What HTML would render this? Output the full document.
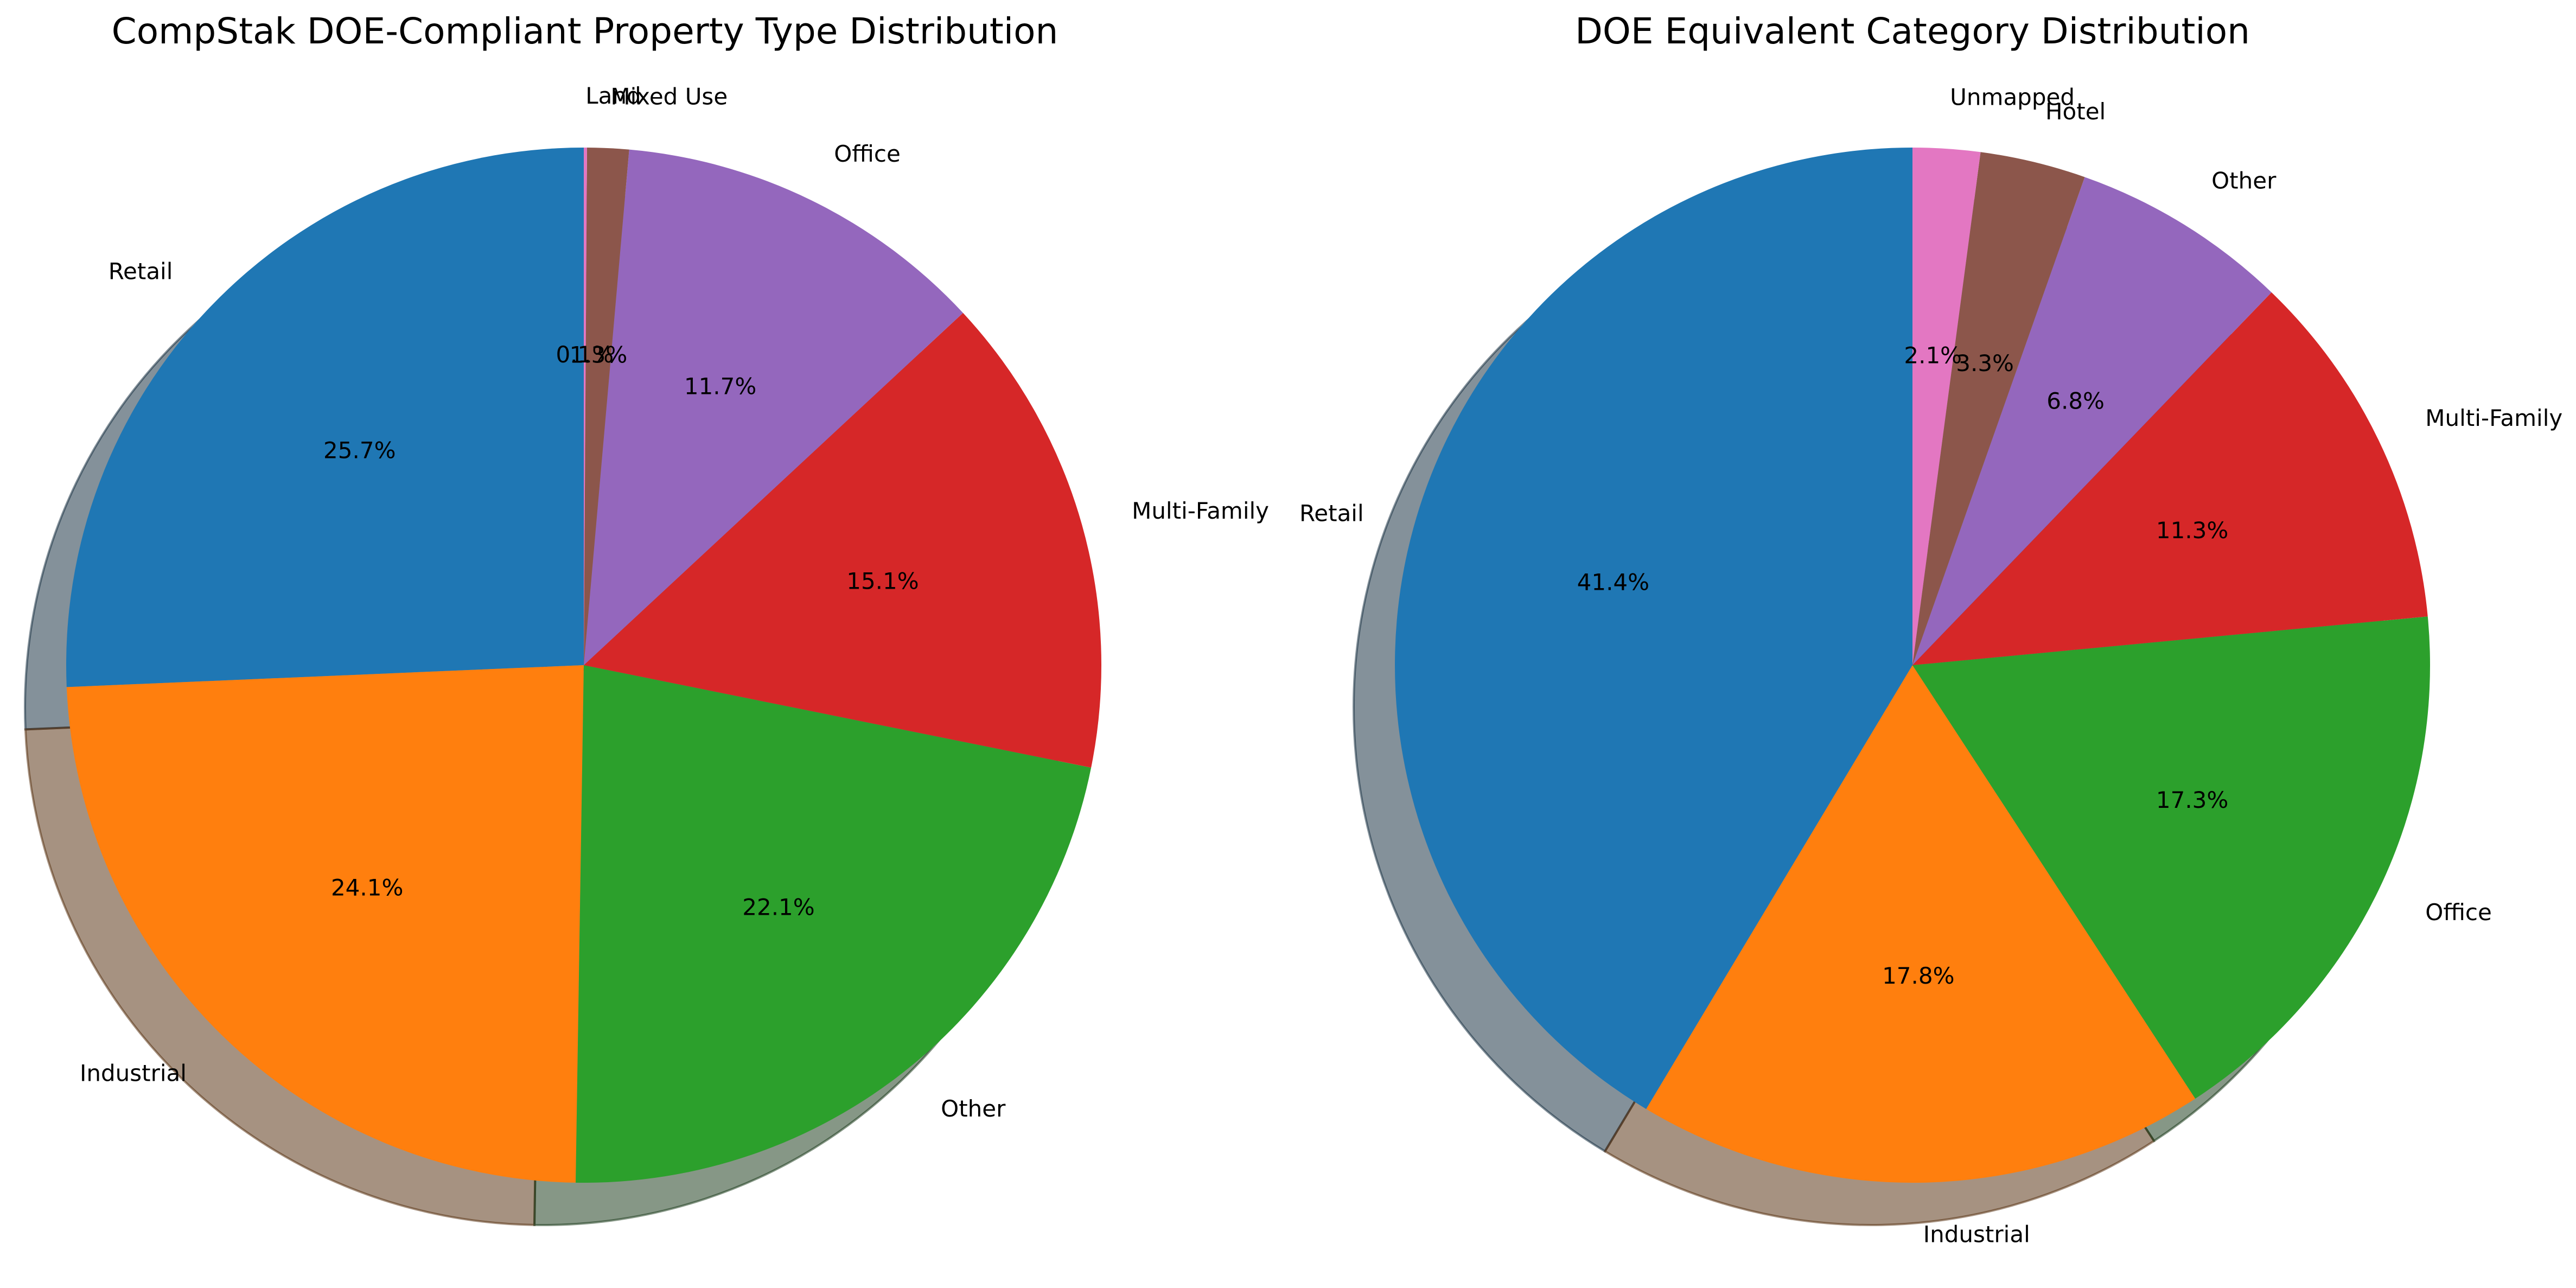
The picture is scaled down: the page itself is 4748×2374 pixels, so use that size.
<!DOCTYPE html>
<html><head><meta charset="utf-8"><style>
html,body{margin:0;padding:0;background:#fff;}
svg{display:block;}
text{font-family:"DejaVu Sans","Liberation Sans",sans-serif;fill:#000;}
</style></head><body>
<svg id="chart" width="4748" height="2374" viewBox="0 0 4748 2374" xmlns="http://www.w3.org/2000/svg">
<text x="1078" y="80" font-size="66" text-anchor="middle">CompStak DOE-Compliant Property Type Distribution</text>
<text x="3525" y="80" font-size="66" text-anchor="middle">DOE Equivalent Category Distribution</text>
<g id="left"></g>
<g id="right"></g>
</svg>
<script>
const leftCategories = ["Retail","Industrial","Other","Multi-Family","Office","Mixed Use","Land"];
const leftValues = [25.7,24.1,22.1,15.1,11.7,1.3,0.1];
const rightCategories = ["Retail","Industrial","Office","Multi-Family","Other","Hotel","Unmapped"];
const rightValues = [41.4,17.8,17.3,11.3,6.8,3.3,2.1];
const palette = ["#1f77b4","#ff7f0e","#2ca02c","#d62728","#9467bd","#8c564b","#e377c2"];

const NS = "http://www.w3.org/2000/svg";
function hexRgb(h){return [1,3,5].map(i=>parseInt(h.substr(i,2),16));}
function wedgePath(cx,cy,r,a0,a1){
  const x0=cx+r*Math.cos(a0), y0=cy-r*Math.sin(a0);
  const x1=cx+r*Math.cos(a1), y1=cy-r*Math.sin(a1);
  const large=(a1-a0)>Math.PI?1:0;
  return `M${cx},${cy} L${x0},${y0} A${r},${r} 0 ${large} 0 ${x1},${y1} Z`;
}
function drawPie(gid, cats, vals, cx, cy, R){
  const g=document.getElementById(gid);
  const total=vals.reduce((a,b)=>a+b,0);
  const sg=document.createElementNS(NS,"g");
  
  
  g.appendChild(sg);
  const wg=document.createElementNS(NS,"g");
  g.appendChild(wg);
  let a=Math.PI/2;
  const angles=[];
  vals.forEach((v,i)=>{const s=a, e=a+v/total*2*Math.PI; angles.push([s,e]); a=e;});
  angles.forEach((an,i)=>{
    const c=hexRgb(palette[i]).map(x=>Math.round(x*0.3));
    const col=`rgb(${c[0]},${c[1]},${c[2]})`;
    const p=document.createElementNS(NS,"path");
    p.setAttribute("d",wedgePath(cx-76,cy+78,R,an[0],an[1]));
    p.setAttribute("fill",col);p.setAttribute("fill-opacity","0.5");
    p.setAttribute("stroke",col);p.setAttribute("stroke-opacity","0.5");p.setAttribute("stroke-width","4");
    
    
    sg.appendChild(p);
  });
  angles.forEach((an,i)=>{
    const slug=cats[i].toLowerCase().replace(/\s+/g,'-');
    const p=document.createElementNS(NS,"path");
    p.setAttribute("d",wedgePath(cx,cy,R,an[0],an[1]));
    p.setAttribute("fill",palette[i]);
    
    
    wg.appendChild(p);
    const m=(an[0]+an[1])/2;
    const lx=cx+1.1*R*Math.cos(m), ly=cy-1.1*R*Math.sin(m);
    const t=document.createElementNS(NS,"text");
    t.setAttribute("x",lx);t.setAttribute("y",ly);
    t.setAttribute("font-size","42");
    t.setAttribute("dominant-baseline","central");
    t.setAttribute("text-anchor",Math.cos(m)>=0?"start":"end");
    t.textContent=cats[i];
    
    
    g.appendChild(t);
    const px=cx+0.6*R*Math.cos(m), py=cy-0.6*R*Math.sin(m);
    const pt=document.createElementNS(NS,"text");
    pt.setAttribute("x",px);pt.setAttribute("y",py);
    pt.setAttribute("font-size","42");
    pt.setAttribute("dominant-baseline","central");
    pt.setAttribute("text-anchor","middle");
    pt.textContent=(vals[i]/total*100).toFixed(1)+"%";
    
    
    g.appendChild(pt);
  });
}
drawPie("left", leftCategories, leftValues, 1076, 1226, 954);
drawPie("right", rightCategories, rightValues, 3525, 1226, 954);
</script>
</body></html>
